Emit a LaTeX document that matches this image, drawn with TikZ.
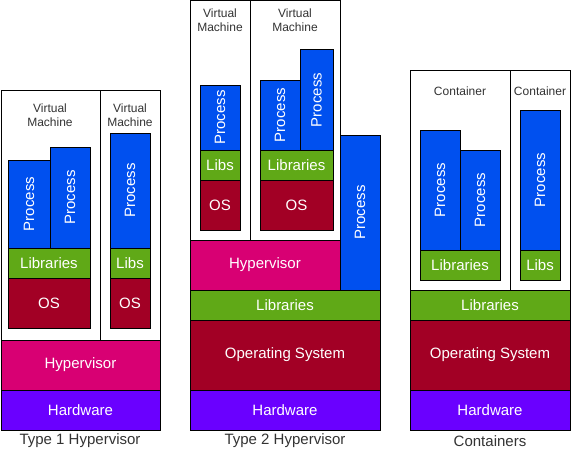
\documentclass[tikz,border=0pt]{standalone}
\usepackage{fontspec}
\setmainfont{Liberation Sans}
\usepackage{graphicx}
\definecolor{procblue}{HTML}{0050EF}
\definecolor{libgreen}{HTML}{60A917}
\definecolor{osred}{HTML}{A20025}
\definecolor{hypmag}{HTML}{D80073}
\definecolor{hwviolet}{HTML}{6A00FF}
\definecolor{captxt}{HTML}{333333}
\tikzset{
  layerbox/.style={draw=black, line width=1pt, anchor=north west, inner sep=0pt, outer sep=0pt, text=white, font=\fontsize{15}{17}\selectfont},
  procbox/.style={layerbox, fill=procblue},
  libbox/.style={layerbox, fill=libgreen},
  osbox/.style={layerbox, fill=osred},
  hypbox/.style={layerbox, fill=hypmag},
  hwbox/.style={layerbox, fill=hwviolet},
  vmframe/.style={layerbox, fill=white},
  smalllbl/.style={text=captxt, align=center, inner sep=0pt, font=\fontsize{12}{14}\selectfont},
  captionlbl/.style={text=captxt, inner sep=0pt, font=\fontsize{15}{17}\selectfont}
}
\newcommand\B[7]{\node[#1, minimum width=#5pt, minimum height=#6pt] (#2) at (#3,#4) {#7};}
\newcommand\Proc{\rotatebox{90}{Process}}
\begin{document}
\begin{tikzpicture}[x=1pt,y=-1pt]
\useasboundingbox (0,0) rectangle (572,452);
% Type 1
\B{vmframe}{vma}{1}{90}{99}{250}{}
\B{vmframe}{vmb}{100}{90}{60}{250}{}
\node[smalllbl] (vmal) at (50,115) {Virtual\\Machine};
\node[smalllbl] (vmbl) at (130,115) {Virtual\\Machine};
\B{procbox}{ta}{8}{160}{42}{88}{\Proc}
\B{procbox}{tb}{50}{147}{40}{101}{\Proc}
\B{libbox}{tc}{8}{248}{82}{30}{Libraries}
\B{osbox}{td}{8}{278}{82}{50}{OS}
\B{procbox}{te}{110}{133}{40}{115}{\Proc}
\B{libbox}{tf}{110}{248}{40}{30}{Libs}
\B{osbox}{tg}{110}{278}{40}{50}{OS}
\B{hypbox}{th}{1}{340}{159}{50}{Hypervisor}
\B{hwbox}{ti}{1}{390}{159}{40}{Hardware}
\node[captionlbl] (capa) at (80,441) {Type 1 Hypervisor};
% Type 2
\B{vmframe}{vmc}{190}{0.5}{60}{239.5}{}
\B{vmframe}{vmd}{250}{0.5}{90}{239.5}{}
\node[smalllbl] (vmcl) at (220,20) {Virtual\\Machine};
\node[smalllbl] (vmdl) at (295,20) {Virtual\\Machine};
\B{procbox}{sa}{200}{85}{40}{65}{\Proc}
\B{libbox}{sb}{200}{150}{40}{30}{Libs}
\B{osbox}{sc}{200}{180}{40}{50}{OS}
\B{procbox}{sd}{260}{80}{40}{70}{\Proc}
\B{procbox}{se}{300}{50}{33}{100}{\Proc}
\B{libbox}{sf}{260}{150}{73}{30}{Libraries}
\B{osbox}{sg}{260}{180}{73}{50}{OS}
\B{procbox}{sh}{340}{135}{40}{155}{\Proc}
\B{hypbox}{si}{190}{240}{150}{50}{Hypervisor}
\B{libbox}{sj}{190}{290}{190}{30}{Libraries}
\B{osbox}{sk}{190}{320}{190}{70}{Operating System}
\B{hwbox}{sl}{190}{390}{190}{40}{Hardware}
\node[captionlbl] (capb) at (285,441) {Type 2 Hypervisor};
% Containers
\B{vmframe}{cta}{410}{70}{100}{220}{}
\B{vmframe}{ctb}{510}{70}{60}{220}{}
\node[smalllbl] (ctal) at (460,91) {Container};
\node[smalllbl] (ctbl) at (540,91) {Container};
\B{procbox}{ca}{420}{130}{40}{120}{\Proc}
\B{procbox}{cb}{460}{150}{40}{100}{\Proc}
\B{libbox}{cc}{420}{250}{80}{30}{Libraries}
\B{procbox}{cd}{520}{110}{40}{140}{\Proc}
\B{libbox}{ce}{520}{250}{40}{30}{Libs}
\B{libbox}{cf}{410}{290}{160}{30}{Libraries}
\B{osbox}{cg}{410}{320}{160}{70}{Operating System}
\B{hwbox}{ch}{410}{390}{160}{40}{Hardware}
\node[captionlbl] (capc) at (490,441) {Containers};
\end{tikzpicture}
\end{document}
